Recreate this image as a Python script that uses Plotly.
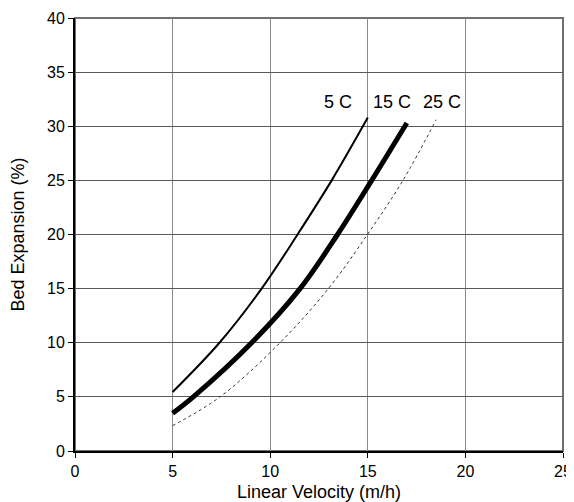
import plotly.graph_objects as go

# Data
x_5c = [5.0, 7.4, 9.56, 11.4, 13.15, 15.0]
y_5c = [5.45, 10.0, 15.0, 20.0, 25.0, 30.8]

x_15c = [5.0, 6.06, 9.05, 11.53, 13.45, 15.2, 17.0]
y_15c = [3.48, 5.0, 10.0, 15.0, 20.0, 25.0, 30.3]

x_25c = [5.0, 7.43, 10.5, 12.98, 14.98, 16.8, 18.5]
y_25c = [2.34, 5.0, 10.0, 15.0, 20.0, 25.0, 30.6]

series_names = ["5 C", "15 C", "25 C"]
label_x = [13.47, 16.24, 18.8]
label_y = [32.2, 32.2, 32.2]

x_ticks = [0, 5, 10, 15, 20, 25]
y_ticks = [0, 5, 10, 15, 20, 25, 30, 35, 40]

font = "Liberation Sans, Arial, sans-serif"

fig = go.Figure()
fig.add_trace(go.Scatter(x=x_5c, y=y_5c, mode="lines", name=series_names[0],
                         line=dict(color="black", width=2, shape="spline", smoothing=1.0)))
fig.add_trace(go.Scatter(x=x_15c, y=y_15c, mode="lines", name=series_names[1],
                         line=dict(color="black", width=5, shape="spline", smoothing=1.0)))
fig.add_trace(go.Scatter(x=x_25c, y=y_25c, mode="lines", name=series_names[2],
                         line=dict(color="#333333", width=1, dash="dot", shape="spline", smoothing=1.0)))

for name, lx, ly in zip(series_names, label_x, label_y):
    fig.add_annotation(x=lx, y=ly, text=name, showarrow=False,
                       font=dict(family=font, size=18, color="black"))

# plot border (gray) on top/right
fig.add_shape(type="rect", xref="paper", yref="paper", x0=0, y0=0, x1=1, y1=1,
              line=dict(color="#707070", width=2), layer="below")

# page body has an 8px margin: figure occupies (8..574, 8..502)
fig.update_layout(
    width=566, height=494,
    margin=dict(l=67, r=11, t=10, b=51),
    plot_bgcolor="white", paper_bgcolor="white",
    showlegend=False,
    font=dict(family=font, size=16, color="black"),
    xaxis=dict(range=[0, 25], tickvals=x_ticks, showgrid=True, gridcolor="#8a8a8a",
               gridwidth=1, showline=True, linecolor="black", linewidth=2,
               ticks="outside", ticklen=5, tickcolor="black", zeroline=False,
               automargin=False, tickfont=dict(size=16),
               title=dict(text="Linear Velocity (m/h)", font=dict(size=18), standoff=10)),
    yaxis=dict(range=[0, 40], tickvals=y_ticks, showgrid=True, gridcolor="#5a5a5a",
               gridwidth=1, showline=True, linecolor="black", linewidth=2,
               ticks="outside", ticklen=5, tickcolor="black", zeroline=False,
               automargin=False, tickfont=dict(size=16),
               title=dict(text="Bed Expansion (%)", font=dict(size=18), standoff=18)),
)

fig.write_html("out.html")
